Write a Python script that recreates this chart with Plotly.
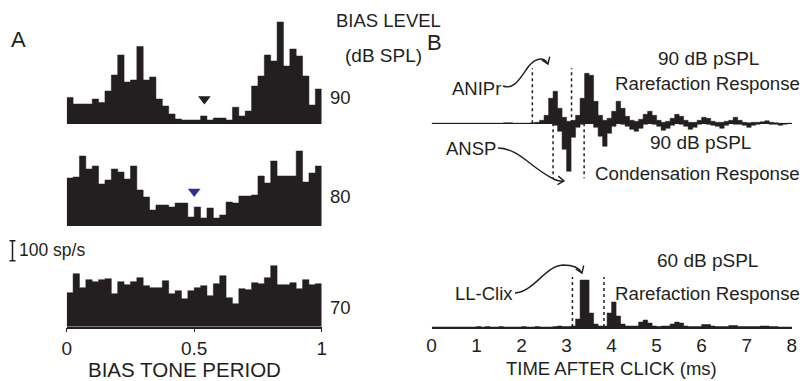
import math
import plotly.graph_objects as go

W, H = 804, 381


def px(x):
    return x / W


def py(y):
    return 1 - y / H


FONT = "Liberation Sans, Arial, Helvetica, sans-serif"
BLACK = "#231f20"
BLUE = "#2e3192"

# ---------------- Panel A : period histograms (sp/s), 40 bins over one bias-tone period
phase_bin_width = 0.025
bias_90 = [133, 100, 100, 100, 125, 108, 165, 245, 345, 210, 220, 388, 220, 235, 125, 90, 50, 25, 20, 20,
           20, 40, 20, 30, 30, 20, 84, 40, 65, 190, 240, 345, 315, 510, 290, 375, 340, 240, 95, 175]
bias_80 = [240, 245, 350, 285, 300, 210, 230, 285, 270, 235, 300, 180, 145, 80, 105, 105, 95, 115, 115, 45,
           95, 40, 90, 40, 55, 120, 115, 150, 150, 155, 250, 215, 325, 250, 250, 250, 375, 220, 265, 300]
bias_70 = [170, 265, 195, 235, 225, 235, 240, 165, 225, 210, 225, 245, 205, 195, 195, 230, 165, 180, 140, 180,
           195, 205, 155, 215, 255, 145, 115, 190, 185, 220, 215, 245, 305, 210, 210, 220, 190, 235, 210, 215]
level_labels = ["90", "80", "70"]
phase_ticks = [0, 0.5, 1]
phase_ticktext = ["0", "0.5", "1"]
best_phase_90 = 0.54
best_phase_80 = 0.50
marker_rate_90 = 125
marker_rate_80 = 172
scale_bar_rates = [330, 430]  # 100 sp/s

# ---------------- Panel B : click PST histograms, 0.1 ms bins, 0-8 ms
time_bin_width = 0.1
rare_90 = [0, 0, 0, 0, 0, 0, 0, 0, 0, 0, 0, 0, 0, 0, 0, 0, 0.5, 0.5, 0, 0,
           0, 0, 0.5, 1, 3, 8, 25, 32, 15, 6, 2, 3, 8, 25, 50, 48, 22, 8, 3, 5,
           12, 22, 15, 7, 3, 2, 4, 9, 12, 8, 3, 1, 2, 5, 9, 7, 3, 1, 1, 3,
           6, 5, 2, 1, 1, 2, 3, 6, 3, 1, 0.5, 1, 1, 1.5, 2.5, 1, 0.5, 0, 0, 0]
cond_90 = [0, 0, 0, 0, 0, 0, 0, 0, 0, 0, 0, 0, 0, 0, 0, 0, 0, 0, 0, 0,
           0, 0, 0, 0, 0, 0, 0, -2, -8, -26, -48, -14, -4, -1, 0, 0, -4, -13, -23, -10,
           -3, 0, -1, -3, -6, -8, -5, -1, 0, -1, -3, -7, -5, -2, 0, -1, -3, -6, -4, -1,
           0, -1, -2, -3, -5, -2, 0, -1, -1, -2, -4, -2, -1, 0, 0, -1, -1, -2, -1, 0]
rare_60 = [0, 0, 0, 0, 0, 0, 0, 0, 0, 0, 0.5, 0, 0.5, 0, 0, 0.5, 0, 0, 0, 0,
           0.5, 0, 0, 0.5, 0, 0, 0, 0.5, 1, 0.5, 0.5, 1, 8, 47, 47, 14, 3, 1, 1, 14,
           25, 11, 3, 1, 1, 1, 5, 7, 4, 1, 0.5, 1, 1, 3, 5, 4, 1, 0.5, 0.5, 0.5,
           2.5, 2.5, 1, 0.5, 0.5, 0.5, 1.5, 1.5, 0.5, 0.5, 0.5, 0.5, 0.5, 1, 1, 0.5, 0.5, 0, 0, 0]
time_ticks = [0, 1, 2, 3, 4, 5, 6, 7, 8]
anipr_lines = [2.24, 3.11]
ansp_lines = [2.70, 3.39]
llclix_lines = [3.13, 3.83]


def step_xy(values, width):
    xs = [i * width for i in range(len(values) + 1)]
    ys = list(values) + [values[-1]]
    return xs, ys


fig = go.Figure()

for vals, yax in [(bias_90, "y"), (bias_80, "y2"), (bias_70, "y3")]:
    xs, ys = step_xy(vals, phase_bin_width)
    fig.add_trace(go.Scatter(x=xs, y=ys, xaxis="x", yaxis=yax, mode="lines", line_shape="hv",
                             line=dict(color=BLACK, width=0.5), fill="tozeroy", fillcolor=BLACK,
                             hoverinfo="skip", showlegend=False))

fig.add_trace(go.Scatter(x=[best_phase_90], y=[marker_rate_90], xaxis="x", yaxis="y", mode="markers",
                         marker=dict(symbol="triangle-down", size=11, color=BLACK), showlegend=False))
fig.add_trace(go.Scatter(x=[best_phase_80], y=[marker_rate_80], xaxis="x", yaxis="y2", mode="markers",
                         marker=dict(symbol="triangle-down", size=11, color=BLUE), showlegend=False))

for vals, xax, yax in [(rare_90, "x2", "y4"), (cond_90, "x2", "y4"), (rare_60, "x3", "y5")]:
    xs, ys = step_xy(vals, time_bin_width)
    fig.add_trace(go.Scatter(x=xs, y=ys, xaxis=xax, yaxis=yax, mode="lines", line_shape="hv",
                             line=dict(color=BLACK, width=0.5), fill="tozeroy", fillcolor=BLACK,
                             hoverinfo="skip", showlegend=False))

shapes = []
for t in anipr_lines:
    shapes.append(dict(type="line", xref="x2", yref="y4", x0=t, x1=t, y0=0, y1=55,
                       line=dict(color=BLACK, width=1.5, dash="dot")))
for t in ansp_lines:
    shapes.append(dict(type="line", xref="x2", yref="y4", x0=t, x1=t, y0=0, y1=-55,
                       line=dict(color=BLACK, width=1.5, dash="dot")))
for t in llclix_lines:
    shapes.append(dict(type="line", xref="x3", yref="y5", x0=t, x1=t, y0=0, y1=50,
                       line=dict(color=BLACK, width=1.5, dash="dot")))

# scale bar 100 sp/s (in the 70 dB histogram's units)
sb_x = px(12.5)
shapes.append(dict(type="line", xref="paper", yref="y3", x0=sb_x, x1=sb_x,
                   y0=scale_bar_rates[0], y1=scale_bar_rates[1], line=dict(color=BLACK, width=1.5)))
for yv in scale_bar_rates:
    shapes.append(dict(type="line", xref="paper", yref="y3", x0=px(9.5), x1=px(15.5), y0=yv, y1=yv,
                       line=dict(color=BLACK, width=1.5)))


def curve(points):
    (x0, y0) = points[0]
    s = f"M {px(x0)},{py(y0)}"
    rest = points[1:]
    for i in range(0, len(rest), 3):
        seg = rest[i:i + 3]
        s += " C " + " ".join(f"{px(x)},{py(y)}" for (x, y) in seg)
    return s


def arrow_head(tip, direction, size=7.5, angle=35):
    dx, dy = direction
    n = math.hypot(dx, dy)
    bx, by = -dx / n, -dy / n
    pts = []
    for a in (angle, -angle):
        r = math.radians(a)
        wx = bx * math.cos(r) - by * math.sin(r)
        wy = bx * math.sin(r) + by * math.cos(r)
        pts.append((tip[0] + wx * size, tip[1] + wy * size))
    return (f"M {px(pts[0][0])},{py(pts[0][1])} L {px(tip[0])},{py(tip[1])} "
            f"L {px(pts[1][0])},{py(pts[1][1])}")


callouts = [
    ([(503, 86), (513, 90), (519, 80), (526, 70), (533, 59), (543, 55), (548, 64)], (548, 64), (0.4, 1)),
    ([(498, 148), (515, 148), (528, 163), (542, 172), (552, 179), (558, 182), (564, 181)], (564, 181), (1, 0.1)),
    ([(515, 293), (535, 291), (545, 266), (563, 265), (573, 265), (579, 267), (582, 273)], (582, 273), (0.4, 1)),
]
for pts, tip, d in callouts:
    shapes.append(dict(type="path", xref="paper", yref="paper", path=curve(pts),
                       line=dict(color=BLACK, width=1.4)))
    shapes.append(dict(type="path", xref="paper", yref="paper", path=arrow_head(tip, d),
                       line=dict(color=BLACK, width=1.4)))

annotations = []


def label(text, x, y, size=19, xanchor="center"):
    annotations.append(dict(text=text, x=px(x), y=py(y), xref="paper", yref="paper", showarrow=False,
                            xanchor=xanchor, yanchor="middle", font=dict(family=FONT, size=size, color=BLACK)))


label("A", 18, 39, 22)
label("B", 434, 42, 22)
label("BIAS LEVEL", 388, 20, 18.5)
label("(dB SPL)", 383, 55, 19)
for txt, yy in zip(level_labels, [97, 196, 307]):
    label(txt, 340, yy, 18.5)
label("100 sp/s", 17, 250, 17.5, xanchor="left")
label("BIAS TONE PERIOD", 184, 369, 20.5)
label("TIME AFTER CLICK (ms)", 611, 368, 18.5)
label("90 dB pSPL", 708, 58, 19)
label("Rarefaction Response", 707, 83, 18.7)
label("90 dB pSPL", 700, 142, 19)
label("Condensation Response", 697, 173, 18.7)
label("ANIPr", 503, 88, 18.5, xanchor="right")
label("ANSP", 498, 148, 18.5, xanchor="right")
label("60 dB pSPL", 707, 260, 19)
label("Rarefaction Response", 707, 293, 18.7)
label("LL-Clix", 515, 293, 18.5, xanchor="right")

hidden = dict(visible=False, fixedrange=True, automargin=False)
fig.update_layout(
    width=W, height=H, autosize=False,
    margin=dict(l=0, r=0, t=0, b=0, pad=0),
    paper_bgcolor="white", plot_bgcolor="rgba(0,0,0,0)",
    font=dict(family=FONT, size=19, color=BLACK),
    xaxis=dict(domain=[px(66.7), px(321.7)], range=[0, 1], anchor="y3", automargin=False,
               tickvals=phase_ticks, ticktext=phase_ticktext, ticks="outside", ticklen=4,
               tickcolor=BLACK, showline=True, linecolor=BLACK, linewidth=1.5,
               showgrid=False, zeroline=False, tickfont=dict(size=19)),
    yaxis=dict(domain=[py(124), py(14)], range=[0, 550], **hidden),
    yaxis2=dict(domain=[py(226), py(116)], range=[0, 550], **hidden),
    yaxis3=dict(domain=[py(326.7), py(216.7)], range=[0, 550], **hidden),
    xaxis2=dict(domain=[px(431.5), px(791.7)], range=[0, 8], anchor="y4", visible=False, automargin=False),
    yaxis4=dict(domain=[py(187), py(60)], range=[-63.7, 63.3], anchor="x2", showgrid=False, automargin=False,
                showticklabels=False, zeroline=True, zerolinecolor=BLACK, zerolinewidth=1.2),
    xaxis3=dict(domain=[px(431.5), px(791.7)], range=[0, 8], anchor="y5", automargin=False,
                tickvals=time_ticks, ticks="", showline=True, linecolor=BLACK, linewidth=1.5,
                showgrid=False, zeroline=False, tickfont=dict(size=19)),
    yaxis5=dict(domain=[py(327), py(250)], range=[0, 77], anchor="x3", **hidden),
    shapes=shapes,
    annotations=annotations,
)

fig.write_html("out.html", config={"displayModeBar": False},
               post_script="document.body.style.margin='0';document.body.style.overflow='hidden';")
